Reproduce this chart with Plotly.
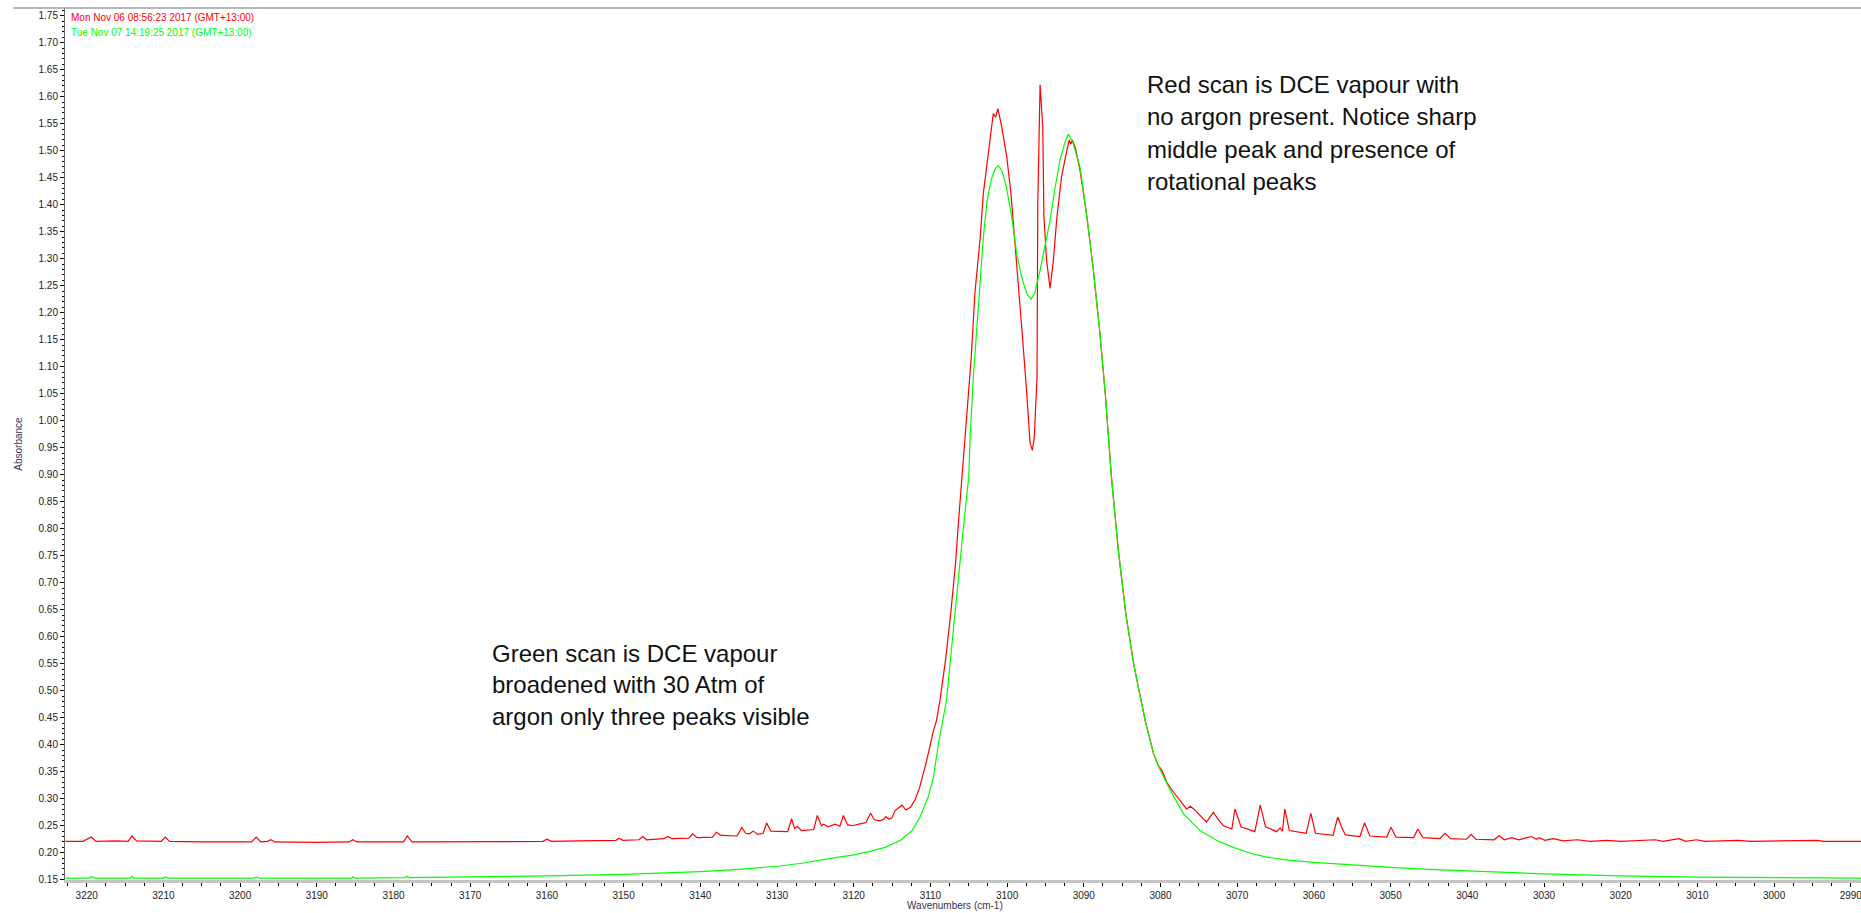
import plotly.graph_objects as go

# ---------------- data ----------------
wn_red = [3222.8, 3220.5, 3219.4, 3218.8, 3216.0, 3214.6, 3214.1, 3213.5, 3210.3, 3209.75,
          3209.2, 3205.0, 3198.5, 3197.9, 3197.3, 3196.4, 3196.0, 3195.5, 3190.0, 3185.8,
          3185.3, 3184.8, 3178.7, 3178.2, 3177.6, 3170.0, 3160.5, 3160.0, 3159.4, 3156.0,
          3153.1, 3151.0, 3150.6, 3150.1, 3148.0, 3147.5, 3147.0, 3144.8, 3144.25, 3143.7,
          3141.5, 3141.0, 3140.4, 3138.4, 3137.9, 3137.3, 3135.2, 3134.6, 3134.1, 3133.6,
          3133.1, 3132.5, 3131.8, 3131.35, 3130.8, 3128.6, 3128.1, 3127.7, 3127.35, 3126.8,
          3125.2, 3124.75, 3124.2, 3123.9, 3123.4, 3122.4, 3121.8, 3121.35, 3120.8, 3120.2,
          3119.3, 3118.4, 3117.8, 3117.3, 3116.6, 3116.1, 3115.8, 3115.4, 3115.0, 3114.6,
          3113.7, 3113.2, 3112.6, 3112.0, 3111.4, 3110.5, 3109.6, 3109.2, 3108.75, 3108.0,
          3107.3, 3106.7, 3106.3, 3105.9, 3105.3, 3104.7, 3104.2, 3103.5, 3103.1, 3102.2,
          3101.8, 3101.5, 3101.2, 3100.7, 3100.05, 3099.5, 3098.75, 3098.1, 3097.5, 3097.0,
          3096.7, 3096.45, 3096.1, 3096.0, 3095.7, 3095.35, 3095.2, 3094.85, 3094.4, 3093.97,
          3093.5, 3092.9, 3092.2, 3091.9, 3091.7, 3091.5, 3091.1, 3090.5, 3089.6, 3088.8,
          3087.9, 3087.2, 3086.4, 3085.5, 3084.5, 3083.5, 3082.8, 3082.4, 3082.0, 3080.9,
          3080.3, 3079.8, 3079.2, 3078.3, 3077.45, 3076.6, 3076.1, 3075.5, 3074.0, 3073.1,
          3072.5, 3071.8, 3070.7, 3070.3, 3069.5, 3067.7, 3067.0, 3066.3, 3064.85, 3064.4,
          3064.1, 3063.8, 3063.2, 3061.0, 3060.4, 3059.8, 3057.5, 3056.9, 3056.4, 3055.9,
          3054.0, 3053.4, 3052.7, 3050.5, 3049.95, 3049.3, 3047.0, 3046.45, 3045.8, 3043.6,
          3042.9, 3042.2, 3040.1, 3039.5, 3038.9, 3036.5, 3035.85, 3035.2, 3034.2, 3033.3,
          3032.25, 3031.6, 3031.0, 3030.6, 3029.9, 3028.8, 3027.5, 3025.65, 3024.0, 3021.8,
          3020.0, 3015.5, 3014.5, 3012.4, 3011.5, 3010.15, 3009.0, 3004.7, 3003.0, 2994.4,
          2993.5, 2988.6]

abs_red = [0.221, 0.221, 0.229, 0.221, 0.222, 0.221, 0.231, 0.222, 0.221, 0.229,
           0.221, 0.220, 0.220, 0.229, 0.220, 0.221, 0.224, 0.220, 0.219, 0.220,
           0.224, 0.220, 0.220, 0.231, 0.220, 0.220, 0.221, 0.225, 0.221, 0.222,
           0.222, 0.223, 0.227, 0.223, 0.224, 0.230, 0.224, 0.226, 0.230, 0.226,
           0.227, 0.235, 0.228, 0.229, 0.238, 0.232, 0.231, 0.247, 0.236, 0.235,
           0.240, 0.234, 0.236, 0.255, 0.240, 0.239, 0.263, 0.245, 0.249, 0.241,
           0.243, 0.269, 0.250, 0.253, 0.248, 0.253, 0.249, 0.269, 0.252, 0.250,
           0.253, 0.256, 0.273, 0.261, 0.259, 0.262, 0.267, 0.262, 0.265, 0.278,
           0.288, 0.279, 0.284, 0.298, 0.321, 0.370, 0.426, 0.445, 0.482, 0.560,
           0.650, 0.740, 0.820, 0.896, 1.001, 1.112, 1.236, 1.340, 1.421, 1.526,
           1.569, 1.562, 1.578, 1.544, 1.489, 1.421, 1.297, 1.174, 1.063, 0.958,
           0.945, 0.970, 1.081, 1.402, 1.622, 1.544, 1.378, 1.297, 1.245, 1.297,
           1.378, 1.452, 1.501, 1.520, 1.512, 1.520, 1.505, 1.464, 1.378, 1.285,
           1.162, 1.050, 0.896, 0.760, 0.640, 0.550, 0.500, 0.475, 0.445, 0.383,
           0.362, 0.352, 0.331, 0.312, 0.297, 0.281, 0.286, 0.279, 0.257, 0.275,
           0.262, 0.250, 0.244, 0.281, 0.248, 0.239, 0.288, 0.248, 0.239, 0.246,
           0.240, 0.281, 0.241, 0.236, 0.273, 0.236, 0.232, 0.266, 0.248, 0.233,
           0.230, 0.255, 0.231, 0.229, 0.247, 0.229, 0.228, 0.244, 0.228, 0.226,
           0.236, 0.226, 0.225, 0.234, 0.225, 0.224, 0.232, 0.224, 0.228, 0.224,
           0.228, 0.230, 0.225, 0.228, 0.223, 0.226, 0.222, 0.224, 0.221, 0.223,
           0.221, 0.224, 0.221, 0.226, 0.221, 0.224, 0.221, 0.223, 0.221, 0.223,
           0.221, 0.221]

wn_green = [3222.8, 3219.6, 3219.4, 3219.0, 3214.3, 3214.1, 3213.8, 3210.0, 3209.75, 3209.4,
            3198.2, 3197.9, 3197.5, 3185.5, 3185.3, 3185.0, 3178.5, 3178.2, 3177.9, 3170.0,
            3160.0, 3150.0, 3140.0, 3135.0, 3130.0, 3127.0, 3124.6, 3122.4, 3120.0, 3118.3,
            3115.9, 3113.9, 3112.4, 3111.35, 3110.3, 3109.6, 3108.95, 3108.3, 3107.9, 3107.3,
            3106.7, 3106.1, 3105.5, 3105.0, 3104.8, 3104.4, 3103.95, 3103.5, 3103.1, 3102.6,
            3102.0, 3101.5, 3101.15, 3100.7, 3100.1, 3099.4, 3098.75, 3098.1, 3097.45, 3096.9,
            3096.4, 3095.7, 3095.1, 3094.4, 3093.8, 3093.1, 3092.5, 3092.0, 3091.4, 3090.5,
            3089.6, 3088.8, 3087.9, 3087.2, 3086.4, 3085.5, 3084.5, 3083.5, 3082.8, 3082.0,
            3080.9, 3080.0, 3078.7, 3077.0, 3074.85, 3072.7, 3070.5, 3068.3, 3066.15, 3063.1,
            3060.0, 3055.0, 3050.0, 3045.0, 3040.0, 3035.0, 3030.0, 3025.0, 3020.0, 3010.0,
            3000.0, 2988.6]

abs_green = [0.153, 0.153, 0.156, 0.153, 0.153, 0.156, 0.153, 0.153, 0.155, 0.153,
             0.153, 0.155, 0.153, 0.153, 0.155, 0.153, 0.154, 0.156, 0.154, 0.155,
             0.157, 0.160, 0.165, 0.169, 0.175, 0.180, 0.186, 0.191, 0.196, 0.201,
             0.210, 0.223, 0.241, 0.266, 0.303, 0.340, 0.402, 0.451, 0.482, 0.570,
             0.660, 0.750, 0.830, 0.896, 0.976, 1.081, 1.174, 1.266, 1.340, 1.408,
             1.450, 1.468, 1.472, 1.464, 1.433, 1.378, 1.310, 1.266, 1.236, 1.225,
             1.236, 1.279, 1.325, 1.371, 1.427, 1.483, 1.514, 1.531, 1.514, 1.470,
             1.378, 1.285, 1.162, 1.050, 0.896, 0.760, 0.640, 0.550, 0.500, 0.445,
             0.383, 0.352, 0.315, 0.272, 0.241, 0.223, 0.210, 0.199, 0.192, 0.186,
             0.182, 0.177, 0.173, 0.169, 0.166, 0.163, 0.161, 0.159, 0.157, 0.155,
             0.154, 0.153]

scan_labels = ["Mon Nov 06 08:56:23 2017 (GMT+13:00)",
               "Tue Nov 07 14:19:25 2017 (GMT+13:00)"]
red_note = ["Red scan is DCE vapour with",
            "no argon present. Notice sharp",
            "middle peak and presence of",
            "rotational peaks"]
green_note = ["Green scan is DCE vapour",
              "broadened with 30 Atm of",
              "argon only three peaks visible"]
x_title = "Wavenumbers (cm-1)"
y_title = "Absorbance"

RED = "#FF0000"
GREEN = "#00FF00"
FONT = "Arial, Liberation Sans, sans-serif"

# ---------------- figure ----------------
W, H = 1861, 913
ML, MR, MT, MB = 65, 0, 8, 33
PW, PH = W - ML - MR, H - MT - MB


def px(xp):
    return (xp - ML) / PW


def py(yp):
    return (H - MB - yp) / PH


fig = go.Figure()
fig.add_trace(go.Scatter(x=wn_red, y=abs_red, mode="lines", name=scan_labels[0],
                         line=dict(color=RED, width=1.2)))
fig.add_trace(go.Scatter(x=wn_green, y=abs_green, mode="lines", name=scan_labels[1],
                         line=dict(color=GREEN, width=1.2)))

annotations = []
# scan labels (legend-like, top left)
for i, (txt, col) in enumerate(zip(scan_labels, [RED, GREEN])):
    annotations.append(dict(xref="paper", yref="paper", x=px(69), y=py(18 + 14.5 * i),
                            xanchor="left", yanchor="middle", text=txt, showarrow=False,
                            font=dict(family=FONT, size=10, color=col)))
for i, txt in enumerate(red_note):
    annotations.append(dict(xref="paper", yref="paper", x=px(1145), y=py(84 + 32.5 * i),
                            xanchor="left", yanchor="middle", text=txt, showarrow=False,
                            font=dict(family=FONT, size=24, color="#111111")))
for i, txt in enumerate(green_note):
    annotations.append(dict(xref="paper", yref="paper", x=px(490), y=py(653 + 31.5 * i),
                            xanchor="left", yanchor="middle", text=txt, showarrow=False,
                            font=dict(family=FONT, size=24, color="#111111")))
# x-axis title at the very bottom edge
annotations.append(dict(xref="paper", yref="paper", x=px(955), y=py(913),
                        xanchor="center", yanchor="bottom", text=x_title, showarrow=False,
                        font=dict(family=FONT, size=10, color="#333355")))

fig.update_layout(
    width=W, height=H,
    margin=dict(l=ML, r=MR, t=MT, b=MB, pad=0),
    paper_bgcolor="white", plot_bgcolor="white",
    showlegend=False,
    annotations=annotations,
    shapes=[dict(type="line", xref="paper", yref="paper", x0=px(13), x1=1, y0=1, y1=1,
                 line=dict(color="#A0A0A0", width=1.5))],
    xaxis=dict(range=[3222.83, 2988.67], tick0=3000, dtick=10,
               ticks="outside", ticklen=4, tickwidth=1, tickcolor="#000000",
               minor=dict(dtick=2.5, tick0=3000, ticks="outside", ticklen=3,
                          tickcolor="#000000", tickwidth=1),
               showline=True, linecolor="#C4C4C4", linewidth=3,
               showgrid=False, zeroline=False,
               ticklabeloverflow="allow",
               tickfont=dict(family=FONT, size=10, color="#222222"),
               automargin=False),
    yaxis=dict(range=[0.1495, 1.7643], tick0=0, dtick=0.05, tickformat=".2f",
               ticks="outside", ticklen=4, tickwidth=1, tickcolor="#000000",
               minor=dict(dtick=0.01, ticks="outside", ticklen=2,
                          tickcolor="#000000", tickwidth=1),
               showline=True, linecolor="#666666", linewidth=1,
               showgrid=False, zeroline=False,
               ticklabeloverflow="allow",
               tickfont=dict(family=FONT, size=10, color="#222222"),
               title=dict(text=y_title, standoff=14,
                          font=dict(family=FONT, size=10, color="#333355")),
               automargin=False),
)

fig.write_html("out.html")
